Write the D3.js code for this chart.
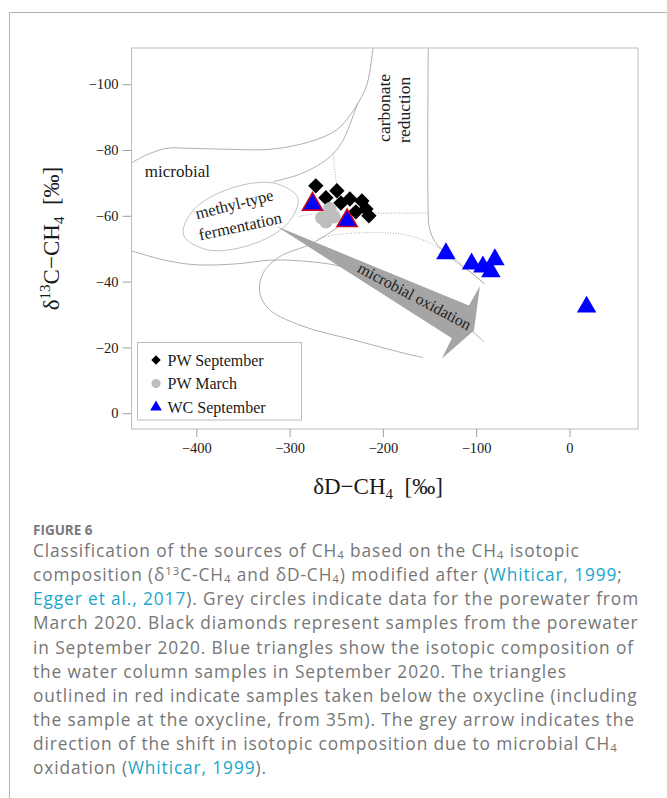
<!DOCTYPE html>
<html><head><meta charset="utf-8">
<script src="https://cdn.jsdelivr.net/npm/d3@7"></script>
<style>
html,body{margin:0;padding:0;background:#fff;}
svg{display:block;}
.serif{font-family:"Liberation Serif","Times New Roman",serif;fill:#1a1a1a;}
.cap{font-family:"Open Sans",Lato,sans-serif;}
</style></head>
<body>
<svg id="chart" width="667" height="798"></svg>
<script>
// ---- samples: [δD-CH4, δ13C-CH4] in ‰ ----
const pwSeptember = [[-271.9,-69.1],[-261.1,-65.5],[-249.3,-67.6],[-245.0,-63.9],[-235.4,-65.1],
                     [-222.5,-64.5],[-218.2,-62.1],[-215.0,-60.0],[-229.0,-61.2]];
const pwMarch = [[-265.4,-59.4],[-256.8,-62.1],[-252.5,-59.7],[-261.1,-58.2]];
const wcSeptember = [[-132.4,-48.5],[-104.9,-45.4],[-92.8,-44.5],[-84.2,-43.0],[-79.9,-46.7],[18.4,-32.3]];
const wcBelowOxycline = [[-275.4,-63.5],[-238.3,-58.5]];

// ---- axis ticks ----
const xTicks = [-400,-300,-200,-100,0];
const yTicks = [-100,-80,-60,-40,-20,0];

// ---- classification field boundaries (Whiticar-type diagram) ----
const microbialUpper = [[-470,-76.0],[-453.4,-78.5],[-432.0,-80.5],[-407.0,-80.5],[-364.1,-80.2],[-321.2,-80.2],
                        [-278.3,-82.5],[-249.7,-86.1],[-233.6,-91.2],[-224.7,-95.2],[-217.2,-99.8],[-212.1,-107.4],[-210.7,-111]];
const microbialInner = [[-317.6,-70.4],[-294.4,-72.1],[-278.3,-74.0],[-262.2,-76.7],[-249.7,-80.0],[-240.8,-84.0],
                        [-233.6,-89.1],[-226.8,-94.3]];
const microbialLower = [[-470,-49.4],[-449.9,-47.7],[-428.4,-46.2],[-399.5,-45.1],[-356.6,-45.4],[-321.2,-46.5],
                        [-289.0,-46.3],[-242.9,-44.5],[-203.2,-39.9],[-149.6,-32.7],[-106.7,-25.4],[-91.7,-21.7]];
const thermoLoop = [[-235.4,-59.1],[-275.1,-51.7],[-310.5,-47.6],[-328.4,-42.6],[-331.9,-36.5],[-321.2,-31.4],
                    [-285.5,-26.4],[-231.8,-22.3],[-178.2,-18.3],[-157.1,-16.9]];
const carbonateEdge = [[-151.4,-111],[-151.4,-60.9],[-150.1,-56.3],[-145.3,-52.7],[-136.7,-49.7],[-122.8,-46.3],
                       [-106.7,-43.0],[-90.6,-39.3]];
const transitionArc = [[-269.7,-53.0],[-253.6,-54.1],[-224.7,-54.8],[-181.8,-54.5],[-155.0,-52.4],[-133.5,-49.1],
                       [-112.1,-44.5],[-91.7,-39.3]];
const dottedLinks = [
  [[-253.3,-79.0],[-252.0,-74.6],[-249.7,-69.9]],
  [[-210.7,-60.8],[-151.4,-60.8]],
  [[-290.8,-59.8],[-272.9,-60.6]]
];
const fermentationOutline = [[-291.3,-65.4],[-302.2,-57.6],[-342.5,-51.1],[-388.7,-49.7],[-413.7,-54.2],
                             [-402.8,-61.9],[-362.5,-68.4],[-316.2,-69.9]];
const oxidationArrow = [[-314.0,-56.8],[-107.8,-32.7],[-96.0,-38.6],[-102.4,-25.1],[-136.7,-16.6],[-126.0,-22.8]];

// ---- field labels ----
const fieldLabels = [
  {text:"microbial", at:[-455.2,-71.8], anchor:"start", rot:0, size:17},
  {text:"methyl-type", at:[-358.7,-63.0], anchor:"middle", rot:-14, size:16.5},
  {text:"fermentation", at:[-352.6,-56.3], anchor:"middle", rot:-12, size:16.5},
  {text:"microbial oxidation", at:[-166.8,-35.1], anchor:"middle", rot:28, size:16},
  {text:"carbonate", at:[-196.8,-92.8], anchor:"middle", rot:-90, size:17.5},
  {text:"reduction", at:[-175.3,-92.2], anchor:"middle", rot:-90, size:17.5}
];

const SERIF = '"Liberation Serif","Times New Roman",serif';
const LINK = "#1aa6c8";
const svg = d3.select("#chart");
const W = 667, H = 798;
svg.append("rect").attr("width",W).attr("height",H).attr("fill","#fff");

// outer figure border
svg.append("path").attr("d","M9.5,798V12.5H667").attr("fill","none").attr("stroke","#b4b4b4").attr("stroke-width",1);

const plot = {left:131.5, right:638, top:48, bottom:429};
const x = d3.scaleLinear().domain([-469.5,73.5]).range([plot.left, plot.right]);
const y = d3.scaleLinear().domain([-111,4.8]).range([plot.top, plot.bottom]);

svg.append("clipPath").attr("id","plotClip").append("rect")
  .attr("x",plot.left).attr("y",plot.top).attr("width",plot.right-plot.left).attr("height",plot.bottom-plot.top);

const g = svg.append("g").attr("clip-path","url(#plotClip)");
const line = d3.line().x(d=>x(d[0])).y(d=>y(d[1])).curve(d3.curveCatmullRom.alpha(0.5));

// solid boundaries
[microbialUpper, microbialInner, microbialLower, thermoLoop, carbonateEdge].forEach(b=>{
  g.append("path").attr("d",line(b)).attr("fill","none").attr("stroke","#9a9a9a").attr("stroke-width",0.8);
});
// fermentation field outline
g.append("path").attr("d",d3.line().x(d=>x(d[0])).y(d=>y(d[1])).curve(d3.curveCatmullRomClosed)(fermentationOutline))
  .attr("fill","none").attr("stroke","#a8a8a8").attr("stroke-width",0.7);
// dotted boundaries
[transitionArc, ...dottedLinks].forEach(b=>{
  g.append("path").attr("d",line(b)).attr("fill","none").attr("stroke","#9a9a9a").attr("stroke-width",0.8)
    .attr("stroke-dasharray","1,1.6");
});

// oxidation direction arrow
g.append("path").attr("d",d3.line().x(d=>x(d[0])).y(d=>y(d[1]))(oxidationArrow)+"Z")
  .attr("fill","#a5a5a5").attr("stroke","none");

// field labels
fieldLabels.forEach(l=>{
  g.append("text").attr("class","serif")
    .attr("transform",`translate(${x(l.at[0])},${y(l.at[1])}) rotate(${l.rot})`)
    .attr("text-anchor",l.anchor).attr("dominant-baseline", l.anchor==="start" ? "auto" : "middle")
    .style("font-size",l.size+"px").style("fill","#222").text(l.text);
});

// samples
g.append("g").selectAll("path").data(pwSeptember).join("path")
  .attr("d",d3.symbol(d3.symbolSquare,118)())
  .attr("transform",d=>`translate(${x(d[0])},${y(d[1])}) rotate(45)`).attr("fill","#000");
g.append("g").selectAll("circle").data(pwMarch).join("circle")
  .attr("cx",d=>x(d[0])).attr("cy",d=>y(d[1])).attr("r",6.8).attr("fill","#bdbdbd");
g.append("g").selectAll("path").data(wcSeptember).join("path")
  .attr("d",d3.symbol(d3.symbolTriangle,165)())
  .attr("transform",d=>`translate(${x(d[0])},${y(d[1])})`).attr("fill","#0000ff");
g.append("g").selectAll("path").data(wcBelowOxycline).join("path")
  .attr("d",d3.symbol(d3.symbolTriangle,175)())
  .attr("transform",d=>`translate(${x(d[0])},${y(d[1])})`).attr("fill","#0000ff")
  .attr("stroke","#c8001e").attr("stroke-width",1.6).attr("stroke-linejoin","miter");

// plot frame
svg.append("rect").attr("x",plot.left).attr("y",plot.top).attr("width",plot.right-plot.left).attr("height",plot.bottom-plot.top)
  .attr("fill","none").attr("stroke","#bdbdbd").attr("stroke-width",1);

// axes
const xAxis = svg.append("g").attr("transform",`translate(0,${plot.bottom})`)
  .call(d3.axisBottom(x).tickValues(xTicks).tickSize(8).tickPadding(6));
const yAxis = svg.append("g").attr("transform",`translate(${plot.left},0)`)
  .call(d3.axisLeft(y).tickValues(yTicks).tickSize(9).tickPadding(4));
[xAxis,yAxis].forEach(a=>{
  a.attr("font-family",SERIF).attr("font-size",14.5);
  a.select(".domain").remove();
  a.selectAll(".tick line").attr("stroke","#a0a0a0");
  a.selectAll(".tick text").style("font-family",SERIF).style("font-size","14.5px").attr("fill","#1a1a1a");
});

// text with sub/superscripts; baseline offsets carried from one tspan to the next
function richText(sel, parts, o){
  let shift = 0;
  parts.forEach(p=>{
    const kind = p[1] || "n";
    const target = kind==="sub" ? o.sub : kind==="sup" ? -o.sup : 0;
    const s = sel.append("tspan").attr("dy", target - shift).text(p[0]);
    shift = target;
    if(kind==="sub" || kind==="sup") s.style("font-size", o.small+"px");
    if(kind==="link") s.style("fill", LINK);
  });
}

// axis titles
const yTitle = svg.append("text").attr("class","serif").attr("text-anchor","middle")
  .attr("transform",`translate(59,${(plot.top+plot.bottom)/2}) rotate(-90)`).style("font-size","23px").style("white-space","pre");
richText(yTitle,[["δ"],["13","sup"],["C−CH"],["4","sub"],["  [‰]"]],{sub:5,sup:9,small:15});
const xTitle = svg.append("text").attr("class","serif").attr("text-anchor","middle")
  .attr("x",378).attr("y",494).style("font-size","23px").style("white-space","pre");
richText(xTitle,[["δD−CH"],["4","sub"],["  [‰]"]],{sub:5,sup:9,small:15});

// legend
const lg = svg.append("g");
lg.append("rect").attr("x",137.5).attr("y",342.5).attr("width",164).attr("height",77.5)
  .attr("fill","#fff").attr("stroke","#bdbdbd");
const legendItems = [
  {label:"PW September", sym:d3.symbolSquare, size:44, rot:45, fill:"#000"},
  {label:"PW March", sym:d3.symbolCircle, size:66, rot:0, fill:"#bdbdbd"},
  {label:"WC September", sym:d3.symbolTriangle, size:60, rot:0, fill:"#0000ff"}
];
legendItems.forEach((it,i)=>{
  const cy = 360 + i*23.6;
  lg.append("path").attr("d",d3.symbol(it.sym,it.size)()).attr("transform",`translate(156,${cy}) rotate(${it.rot})`).attr("fill",it.fill);
  lg.append("text").attr("class","serif").attr("x",167.5).attr("y",cy+5.5).style("font-size","16px").text(it.label);
});

// caption
svg.append("text").attr("class","cap").attr("x",33).attr("y",535).style("font-size","13.5px").style("font-weight","700")
  .style("fill","#7a7a7a").text("FIGURE 6");
const captionLines = [
  [["Classification of the sources of CH"],["4","sub"],[" based on the CH"],["4","sub"],[" isotopic"]],
  [["composition (δ"],["13","sup"],["C-CH"],["4","sub"],[" and δD-CH"],["4","sub"],[") modified after ("],["Whiticar, 1999","link"],[";"]],
  [["Egger et al., 2017","link"],["). Grey circles indicate data for the porewater from"]],
  [["March 2020. Black diamonds represent samples from the porewater"]],
  [["in September 2020. Blue triangles show the isotopic composition of"]],
  [["the water column samples in September 2020. The triangles"]],
  [["outlined in red indicate samples taken below the oxycline (including"]],
  [["the sample at the oxycline, from 35m). The grey arrow indicates the"]],
  [["direction of the shift in isotopic composition due to microbial CH"],["4","sub"]],
  [["oxidation ("],["Whiticar, 1999","link"],[")."]]
];
captionLines.forEach((ln,i)=>{
  const t = svg.append("text").attr("class","cap").attr("x",33).attr("y",557+i*24.15)
    .style("font-size","17.3px").style("letter-spacing","0.9px").style("fill","#767676");
  richText(t, ln, {sub:2.2, sup:6.5, small:11.5});
});
</script>
</body></html>
